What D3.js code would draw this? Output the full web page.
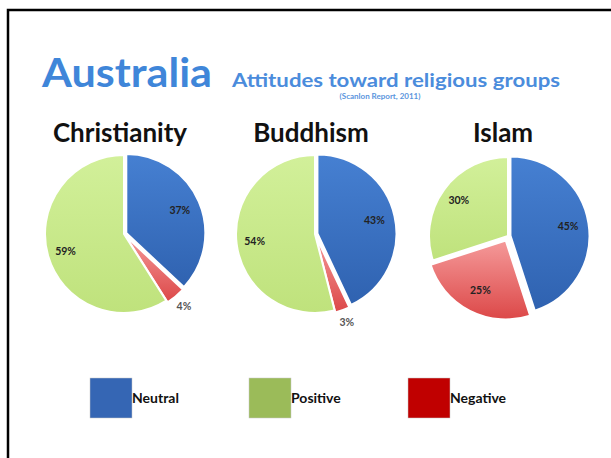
<!DOCTYPE html>
<html>
<head>
<meta charset="utf-8">
<script src="https://cdn.jsdelivr.net/npm/d3@7"></script>
<style>
  body { margin:0; background:white; }
  svg { display:block; }
</style>
</head>
<body>
<svg id="canvas" width="611" height="458"></svg>
<script>
// data
var religions = ["Christianity", "Buddhism", "Islam"];
var neutral  = [37, 43, 45];
var negative = [4, 3, 25];
var positive = [59, 54, 30];
var legendOrder = ["Neutral", "Positive", "Negative"];

var svg = d3.select("#canvas");
var font = "Lato, 'Open Sans', sans-serif";

// frame (top and left edges only, like the slide crop)
svg.append("path")
  .attr("d", "M8,458 L8,10 L611,10")
  .attr("fill", "none")
  .attr("stroke", "black")
  .attr("stroke-width", 2.5);

// gradients for slices
var defs = svg.append("defs");
var grads = {
  Neutral:  ["#4680d2", "#2f62b0"],
  Negative: ["#f59a9a", "#dc4848"],
  Positive: ["#d2f09a", "#bfe27c"]
};
Object.keys(grads).forEach(function(k) {
  var g = defs.append("linearGradient").attr("id", "g" + k)
    .attr("x1", 0).attr("y1", 0).attr("x2", 0).attr("y2", 1);
  g.append("stop").attr("offset", "0%").attr("stop-color", grads[k][0]);
  g.append("stop").attr("offset", "100%").attr("stop-color", grads[k][1]);
});
var legendColor = { Neutral:"#3566b4", Positive:"#9bbb59", Negative:"#c00000" };

// headings
svg.append("text")
  .attr("x", 42).attr("y", 87)
  .attr("font-family", font).attr("font-weight", 700)
  .attr("font-size", 40).attr("fill", "#3f86d9")
  .attr("textLength", 170).attr("lengthAdjust", "spacingAndGlyphs")
  .text("Australia");

svg.append("text")
  .attr("x", 232).attr("y", 87)
  .attr("font-family", font).attr("font-weight", 700)
  .attr("font-size", 18).attr("fill", "#4b8cdc")
  .attr("textLength", 328).attr("lengthAdjust", "spacingAndGlyphs")
  .text("Attitudes toward religious groups");

svg.append("text")
  .attr("x", 380).attr("y", 99)
  .attr("text-anchor", "middle")
  .attr("font-family", font).attr("font-weight", 700)
  .attr("font-size", 8).attr("fill", "#5a95dd")
  .text("(Scanlon Report, 2011)");

// pies
var centersX = [124, 315, 508];
var centersY = [234, 234, 236];
var titleX = [120, 311, 503];
var R = 79;
var pie = d3.pie().sort(null).value(function(d) { return d.value; });
var arc = d3.arc().innerRadius(0).outerRadius(R);
var explode = { Neutral: 2.5, Negative: 2, Positive: 0 };

religions.forEach(function(rel, i) {
  var vals = [
    { key:"Neutral",  value: neutral[i] },
    { key:"Negative", value: negative[i] },
    { key:"Positive", value: positive[i] }
  ];

  svg.append("text")
    .attr("x", titleX[i]).attr("y", 142)
    .attr("text-anchor", "middle")
    .attr("font-family", font).attr("font-weight", 700)
    .attr("font-size", 26).attr("fill", "#111")
    .text(rel);

  var g = svg.append("g")
    .attr("transform", "translate(" + centersX[i] + "," + centersY[i] + ")");
  var arcs = pie(vals);

  g.selectAll("path").data(arcs).enter().append("path")
    .attr("d", arc)
    .attr("transform", function(d) {
      var a = (d.startAngle + d.endAngle) / 2;
      var e = explode[d.data.key] + (d.data.key == "Negative" && d.data.value > 10 ? 3 : 0);
      return "translate(" + (Math.sin(a) * e) + "," + (-Math.cos(a) * e) + ")";
    })
    .attr("fill", function(d) { return "url(#g" + d.data.key + ")"; })
    .attr("stroke", "white")
    .attr("stroke-width", 2);

  g.selectAll("text.lab").data(arcs).enter().append("text")
    .attr("class", "lab")
    .attr("x", function(d) {
      var a = (d.startAngle + d.endAngle) / 2;
      var r = d.data.value < 5 ? R * 1.19 : R * 0.77;
      return Math.sin(a) * r;
    })
    .attr("y", function(d) {
      var a = (d.startAngle + d.endAngle) / 2;
      var r = d.data.value < 5 ? R * 1.19 : R * 0.77;
      return -Math.cos(a) * r;
    })
    .attr("dy", "0.35em")
    .attr("text-anchor", "middle")
    .attr("font-family", font).attr("font-weight", 700)
    .attr("font-size", 10.5)
    .attr("fill", function(d) { return d.data.value < 5 ? "#555" : "#222"; })
    .text(function(d) { return d.data.value + "%"; });
});

// legend
var lx = d3.scalePoint().domain(legendOrder).range([90, 408]);
var lg = svg.selectAll("g.leg").data(legendOrder).enter().append("g")
  .attr("class", "leg")
  .attr("transform", function(d) { return "translate(" + lx(d) + ",378)"; });
lg.append("rect")
  .attr("width", 42).attr("height", 40)
  .attr("fill", function(d) { return legendColor[d]; })
  .attr("stroke", "#c8c8c8").attr("stroke-width", 0.5);
lg.append("text")
  .attr("x", 42).attr("y", 20).attr("dy", "0.35em")
  .attr("font-family", font).attr("font-weight", 700)
  .attr("font-size", 14).attr("fill", "#111")
  .text(function(d) { return d; });
</script>
</body>
</html>
